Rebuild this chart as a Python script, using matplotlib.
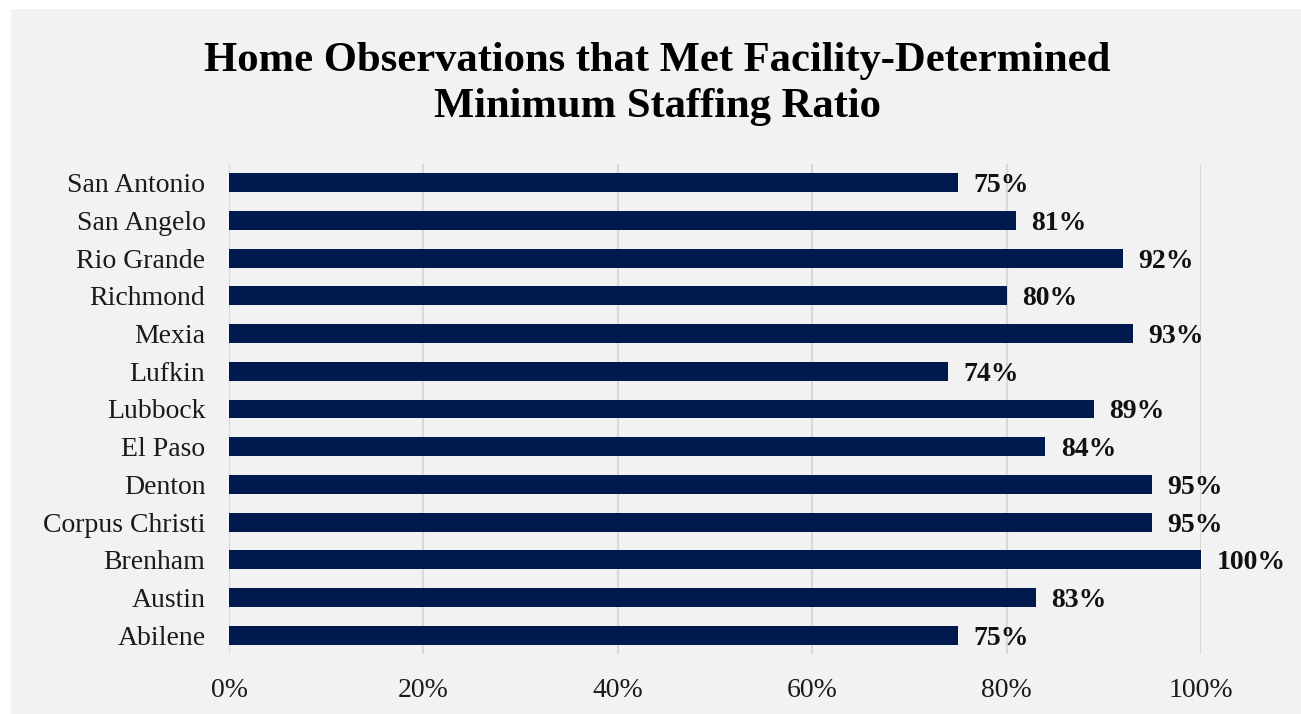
import matplotlib.pyplot as plt
from matplotlib.ticker import FuncFormatter

# facilities, bottom to top as drawn
facilities = ["Abilene", "Austin", "Brenham", "Corpus Christi", "Denton",
              "El Paso", "Lubbock", "Lufkin", "Mexia", "Richmond",
              "Rio Grande", "San Angelo", "San Antonio"]
pct_met = [75, 83, 100, 95, 95, 84, 89, 74, 93, 80, 92, 81, 75]

bg = "#f2f2f2"
navy = "#001a4e"
serif = ["Liberation Serif", "DejaVu Serif"]

plt.rcParams["font.family"] = serif

fig = plt.figure(figsize=(13.01, 7.14), dpi=100)
fig.patch.set_facecolor("white")

# grey chart area with a thin white margin on the top and left
back = fig.add_axes([11 / 1301, 0, 1 - 11 / 1301, 1 - 9 / 714], zorder=-1)
back.set_facecolor(bg)
back.set_xticks([])
back.set_yticks([])
for s in back.spines.values():
    s.set_visible(False)

ax = fig.add_axes([229 / 1301, 60 / 714, 972 / 1301, 490 / 714])
ax.set_facecolor(bg)

y = range(len(facilities))
ax.barh(y, pct_met, height=0.5, color=navy, zorder=3)

for yi, v in zip(y, pct_met):
    ax.annotate(f"{v}%", xy=(v, yi), xytext=(11, 0), textcoords="offset points",
                va="center_baseline", ha="left", fontsize=20, fontweight="bold",
                color="#111111")

ax.set_xlim(0, 100)
ax.set_ylim(-0.5, len(facilities) - 0.5)
ax.set_xticks(range(0, 101, 20))
ax.xaxis.set_major_formatter(FuncFormatter(lambda v, _: f"{v:.0f}%"))
ax.set_yticks(list(y))
ax.set_yticklabels(facilities)
ax.tick_params(axis="both", length=0, labelsize=20, colors="#1a1a1a")
ax.tick_params(axis="x", pad=17)
ax.tick_params(axis="y", pad=17)
ax.grid(axis="x", color="#d9d9d9", linewidth=1.5, zorder=0)
for s in ax.spines.values():
    s.set_visible(False)

fig.text(657 / 1301, 1 - 84 / 714,
         "Home Observations that Met Facility-Determined\nMinimum Staffing Ratio",
         ha="center", va="center", fontsize=30.7, fontweight="bold",
         linespacing=1.25, color="black")

fig.savefig("out.png", dpi=100, facecolor=fig.get_facecolor())
